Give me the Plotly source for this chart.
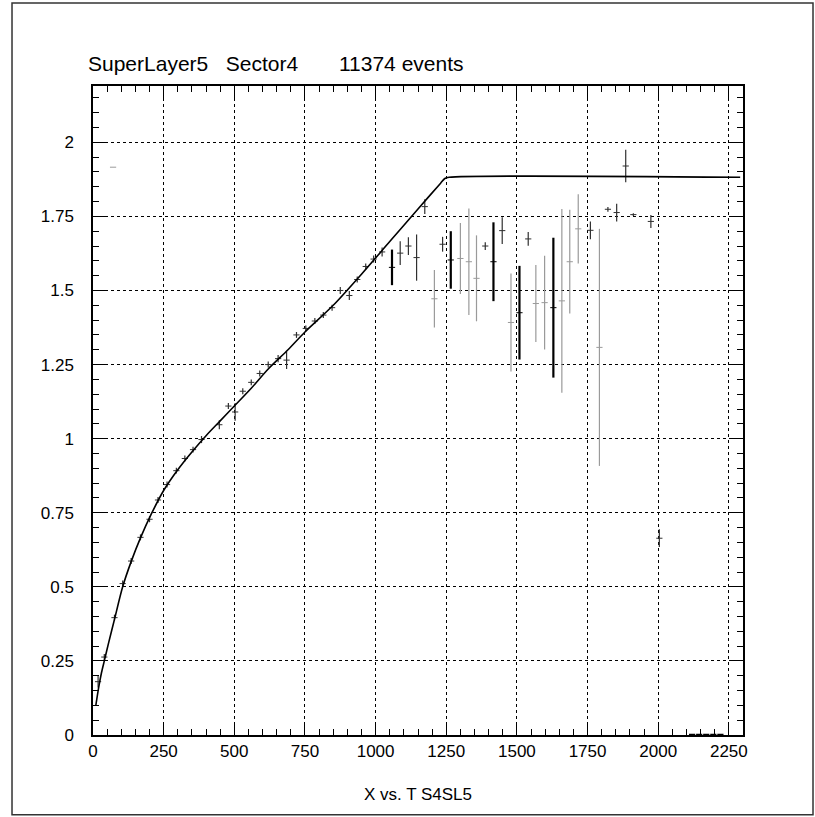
import plotly.graph_objects as go

# fitted curve
fit_x = [10, 20, 30, 40, 55, 76, 105, 135, 168, 206, 250, 300, 350, 400, 450, 500, 560, 620,
         690, 750, 850, 950, 1050, 1150, 1230, 1245, 1260, 2290]
fit_y = [0.10, 0.16, 0.21, 0.25, 0.31, 0.39, 0.50, 0.585, 0.665, 0.745, 0.825, 0.895, 0.955,
         1.01, 1.06, 1.11, 1.17, 1.235, 1.30, 1.36, 1.45, 1.555, 1.665, 1.775, 1.862, 1.878,
         1.882, 1.882]

# dark data points
dark_x = [18, 40, 76, 105, 135, 168, 200, 230, 262, 295, 325, 354, 384, 447, 479, 503,
          530, 560, 590, 620, 655, 685, 720, 753, 785, 815, 846, 875, 907, 935, 965, 993, 1023,
          1087, 1116, 1145, 1174, 1237, 1388, 1448, 1540, 1760, 1822, 1853, 1885, 1912, 1974, 2004]
dark_y = [0.18, 0.263, 0.396, 0.511, 0.587, 0.667, 0.728, 0.793, 0.845, 0.892, 0.933, 0.963,
          0.997, 1.047, 1.11, 1.09, 1.16, 1.19, 1.22, 1.25, 1.27, 1.265, 1.35, 1.372, 1.397,
          1.417, 1.442, 1.50, 1.483, 1.537, 1.581, 1.606, 1.63,
          1.626, 1.65, 1.611, 1.783, 1.656, 1.65, 1.702, 1.674, 1.703, 1.774, 1.763, 1.92,
          1.756, 1.733, 0.664]
dark_err = [0.02, 0.01, 0.01, 0.01, 0.01, 0.01, 0.01, 0.01, 0.01, 0.01, 0.01, 0.01, 0.012,
            0.015, 0.01, 0.03, 0.01, 0.01, 0.01, 0.01, 0.012, 0.03, 0.01, 0.01, 0.01, 0.01,
            0.01, 0.012, 0.015, 0.01, 0.01, 0.012, 0.015,
            0.04, 0.03, 0.078, 0.025, 0.025, 0.013, 0.045, 0.023, 0.03, 0.008, 0.03, 0.055,
            0.005, 0.022, 0.03]

# black thick-error points
black_x = [1058, 1266, 1417, 1509, 1629]
black_y = [1.578, 1.603, 1.597, 1.425, 1.442]
black_err = [0.06, 0.097, 0.133, 0.158, 0.236]

# light grey points
grey_x = [71, 1208, 1300, 1330, 1357, 1479, 1567, 1598, 1659, 1687, 1717, 1792]
grey_y = [1.916, 1.472, 1.608, 1.597, 1.541, 1.392, 1.456, 1.459, 1.465, 1.597, 1.708, 1.308]
grey_err = [0.0, 0.097, 0.12, 0.18, 0.145, 0.165, 0.13, 0.158, 0.31, 0.175, 0.117, 0.40]

# empty bins sitting on the x axis
zero_x = [2120, 2145, 2170, 2195, 2220]
zero_y = [0.0, 0.0, 0.0, 0.0, 0.0]
zero_err = [0.0, 0.0, 0.0, 0.0, 0.0]

x_ticks = [0, 250, 500, 750, 1000, 1250, 1500, 1750, 2000, 2250]
y_ticks = [0, 0.25, 0.5, 0.75, 1, 1.25, 1.5, 1.75, 2]
y_tick_text = ["0", "0.25", "0.5", "0.75", "1", "1.25", "1.5", "1.75", "2"]

FONT = "Liberation Sans, Arial, sans-serif"
NB = "\u00a0"

fig = go.Figure()

def pts(xs, ys, errs, color, thick, xthick=1):
    fig.add_trace(go.Scatter(
        x=xs, y=ys, mode="markers",
        marker=dict(size=1, color=color, opacity=0),
        error_y=dict(type="data", array=errs, visible=True, color=color, thickness=thick, width=0),
        error_x=dict(type="constant", value=11, visible=True, color=color, thickness=xthick, width=0),
        showlegend=False, hoverinfo="x+y", cliponaxis=False))

pts(grey_x, grey_y, grey_err, "#9a9a9a", 1.2)
pts(dark_x, dark_y, dark_err, "#303030", 1.2)
pts(black_x, black_y, black_err, "#000000", 2.2)
pts(zero_x, zero_y, zero_err, "#000000", 1, 2.5)

fig.add_trace(go.Scatter(x=fit_x, y=fit_y, mode="lines",
                         line=dict(color="black", width=1.6, shape="spline", smoothing=0.8),
                         showlegend=False, hoverinfo="skip"))

axis_common = dict(
    showline=True, linecolor="black", linewidth=1.5, mirror="ticks",
    ticks="inside", ticklen=12, tickwidth=1.2, tickcolor="black",
    showgrid=True, gridcolor="black", gridwidth=1, griddash="dot",
    zeroline=False,
    tickfont=dict(family=FONT, size=17, color="black"),
)

fig.update_xaxes(range=[0, 2300], tickvals=x_ticks, ticktext=[str(v) for v in x_ticks],
                 minor=dict(dtick=50, tick0=0, ticks="inside", ticklen=6, tickcolor="black", showgrid=False),
                 title=dict(text="X vs. T S4SL5", font=dict(family=FONT, size=17, color="black"), standoff=28),
                 **axis_common)
fig.update_yaxes(range=[0, 2.19], tickvals=y_ticks, ticktext=y_tick_text,
                 minor=dict(dtick=0.05, tick0=0, ticks="inside", ticklen=6, tickcolor="black", showgrid=False),
                 ticklabelstandoff=14,
                 **axis_common)

title_text = "SuperLayer5" + NB * 3 + "Sector4" + NB * 7 + "11374 events"

fig.update_layout(
    width=815, height=817,
    margin=dict(l=93, r=72, t=86, b=82),
    paper_bgcolor="white", plot_bgcolor="white",
    font=dict(family=FONT, size=17, color="black"),
    annotations=[dict(text=title_text,
                      xref="paper", yref="paper", x=-0.011, y=1.035, xanchor="left", yanchor="middle",
                      showarrow=False, font=dict(family=FONT, size=21, color="black"))],
    shapes=[dict(type="rect", xref="paper", yref="paper", x0=-0.1246, x1=1.1077, y0=-0.123, y1=1.128,
                 line=dict(color="#333333", width=1.5))],
)

fig.write_html("out.html")
